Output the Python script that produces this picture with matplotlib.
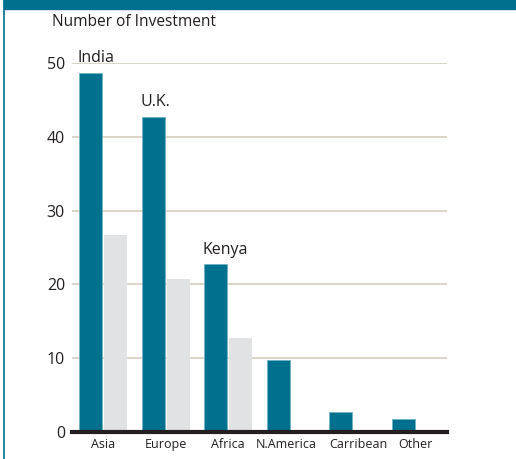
import numpy as np
import matplotlib
matplotlib.use("Agg")
import matplotlib.pyplot as plt
import matplotlib.transforms as mtransforms
from matplotlib.patches import Rectangle
from matplotlib.lines import Line2D

# data
regions = ["Asia", "Europe", "Africa", "N.America", "Carribean", "Other"]
teal_vals = [48.7, 42.7, 22.7, 9.8, 2.7, 1.7]
grey_vals = [26.7, 20.7, 12.7, 0, 0, 0]
top_names = ["India", "U.K.", "Kenya"]

teal = "#00708f"
grey = "#e1e2e3"
txt = "#231f20"

plt.rcParams["font.family"] = ["Open Sans", "DejaVu Sans"]

fig = plt.figure(figsize=(5.16, 4.59), dpi=100)
ax = fig.add_axes([72 / 516, 1 - 432 / 459, 375 / 516, 369 / 459])

x = np.arange(len(regions))
w = 0.375
ax.bar(x - 0.2, teal_vals, width=w, color=teal, edgecolor="#6fb3c8", linewidth=0.6, zorder=3)
gx = [xi for xi, v in zip(x, grey_vals) if v > 0]
gv = [v for v in grey_vals if v > 0]
ax.bar(np.array(gx) + 0.2, gv, width=w, color=grey, edgecolor="none", zorder=3)

for i, name in enumerate(top_names):
    ax.annotate(name, (x[i] - 0.2 - w / 2 - 0.02, teal_vals[i]), xytext=(0, 5),
                textcoords="offset points", fontsize=11.5, color=txt, ha="left", va="bottom")

ax.set_xlim(-0.5, 5.5)
ax.set_ylim(0, 50)
ax.set_yticks([0, 10, 20, 30, 40, 50])
ax.yaxis.grid(True, color="#d6cdbf", linewidth=1.2, zorder=0)
ax.set_axisbelow(True)
for s in ["top", "right", "left"]:
    ax.spines[s].set_visible(False)
ax.spines["bottom"].set_linewidth(3)
ax.spines["bottom"].set_color(txt)
ax.spines["bottom"].set_zorder(4)
ax.set_xticks(x)
ax.set_xticklabels(regions, fontsize=9, color=txt)
ax.tick_params(axis="x", length=0, pad=4)
ax.tick_params(axis="y", length=0, pad=5, labelsize=11.5, labelcolor=txt)

# nudge the two crowded labels apart like the original
shifts = {3: -5, 4: 5}
for i, lab in enumerate(ax.get_xticklabels()):
    if i in shifts:
        off = mtransforms.ScaledTranslation(shifts[i] / 100, 0, fig.dpi_scale_trans)
        lab.set_transform(lab.get_transform() + off)

fig.text(52 / 516, 1 - 22 / 459, "Number of Investment", fontsize=11.2, color=txt, va="center", ha="left")

# frame decoration: top band and left rule
fig.patches.append(Rectangle((4 / 516, 1 - 9 / 459), 1, 9 / 459, transform=fig.transFigure,
                             color=teal, zorder=0))
fig.lines.append(Line2D([4 / 516, 4 / 516], [0, 1], transform=fig.transFigure, color=teal, linewidth=1.2))

fig.savefig("out.png", dpi=100)
